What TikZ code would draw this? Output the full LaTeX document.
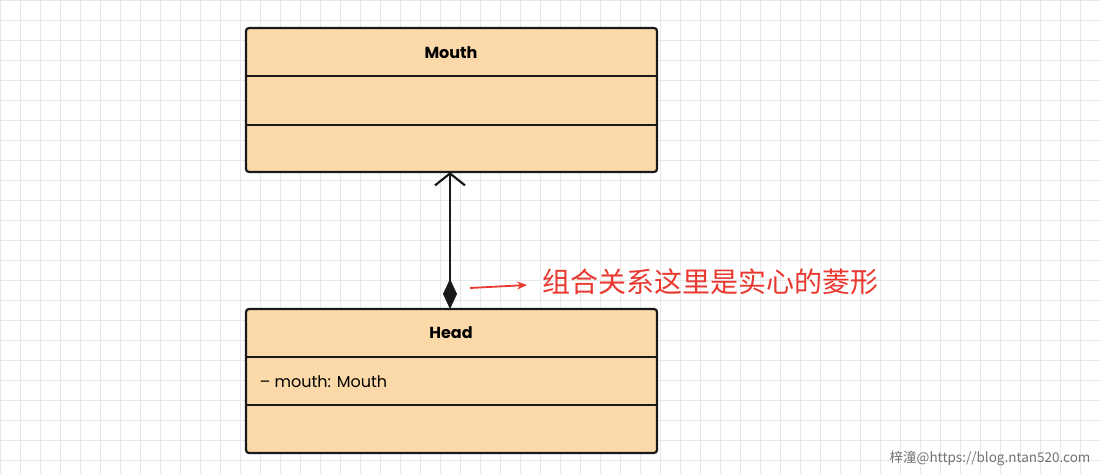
\documentclass[tikz,border=0pt]{standalone}
\usepackage{fontspec}
\setmainfont{Poppins}
\newfontfamily\cjk{Noto Sans CJK SC}
\usetikzlibrary{arrows.meta}
\definecolor{boxfill}{HTML}{FCD9A8}
\definecolor{gridc}{HTML}{E8E8E8}
\definecolor{redc}{HTML}{E8382F}
\tikzset{
  classbox/.style={draw=black!90, line width=2.2pt, fill=boxfill, rounded corners=3pt},
  sep/.style={draw=black!90, line width=2.2pt},
  title/.style={font=\fontsize{16}{19}\selectfont\bfseries},
  attr/.style={font=\fontsize{16}{19}\selectfont, anchor=west},
}
\begin{document}
\begin{tikzpicture}[x=1pt,y=-1pt]
\useasboundingbox (0,0) rectangle (1100,474);
\fill[white] (0,0) rectangle (1100,474);
\foreach \i in {0,20,...,1100} \draw[gridc, line width=0.8pt] (\i,0) -- (\i,474);
\foreach \j in {0,20,...,474} \draw[gridc, line width=0.8pt] (0,\j) -- (1100,\j);
% Mouth
\draw[classbox] (246,28) rectangle (657,172);
\draw[sep] (246,76) -- (657,76);
\draw[sep] (246,125) -- (657,125);
\node[title] (mouth) at (451,53) {Mouth};
\coordinate (mb) at (450,172);
% Head
\draw[classbox] (246,309) rectangle (657,453);
\draw[sep] (246,357) -- (657,357);
\draw[sep] (246,405) -- (657,405);
\node[title] (head) at (451,333) {Head};
\node[attr] (attr) at (256,382) {– mouth: Mouth};
\coordinate (ht) at (450,309);
\draw[line width=2.2pt, black!90, {Diamond[length=30pt,width=14pt]}-{Straight Barb[length=12pt,width=30pt,line width=2.2pt]}] (ht) -- (mb);
% annotation
\coordinate (ra) at (470,288);
\coordinate (rb) at (527,285);
\draw[redc, line width=1.8pt, -{Stealth[length=10pt,width=8pt]}] (ra) -- (rb);
\node[anchor=west, text=redc, font=\cjk\fontsize{28}{32}\selectfont] (note) at (539,282) {组合关系这里是实心的菱形};
\node[anchor=east, text=black!55, font=\cjk\fontsize{13.5}{15}\selectfont] (wm) at (1094,458) {梓潼@https://blog.ntan520.com};
\end{tikzpicture}
\end{document}
